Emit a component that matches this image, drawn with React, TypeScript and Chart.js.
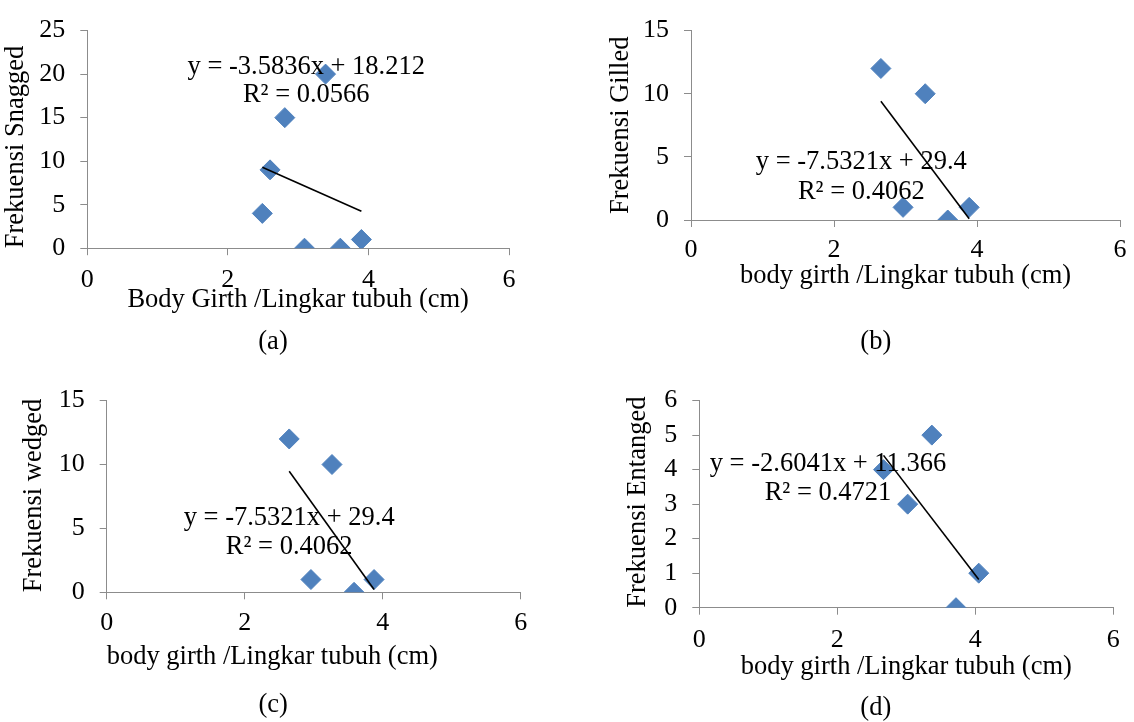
import React, { useEffect, useRef } from 'react';
import { Chart, registerables } from 'chart.js';

Chart.register(...registerables);

const FONT = "'Liberation Serif', 'Times New Roman', Times, serif";
const AXIS_GRAY = '#8c8c8c';
const MARKER = '#4F81BD';
const TICK_SIZE = 26;
const TEXT_SIZE = 26.5;

// ---- data ----
const xTickValues = [0, 2, 4, 6];

// (a) Snagged
const snaggedGirth = [2.49, 2.6, 2.81, 3.39, 3.09, 3.6, 3.9];
const snaggedFreq = [4, 9, 15, 20, 0, 0, 1];
const snaggedFit = [-3.5836, 18.212];
const snaggedEq = ['y = -3.5836x + 18.212', 'R² = 0.0566'];

// (b) Gilled
const gilledGirth = [2.655, 3.275, 2.965, 3.59, 3.89];
const gilledFreq = [12, 10, 1, 0, 1];
const gilledFit = [-7.5321, 29.4];
const gilledEq = ['y = -7.5321x + 29.4', 'R² = 0.4062'];

// (c) Wedged
const wedgedGirth = [2.645, 3.265, 2.96, 3.585, 3.875];
const wedgedFreq = [12, 10, 1, 0, 1];
const wedgedFit = [-7.5321, 29.4];
const wedgedEq = ['y = -7.5321x + 29.4', 'R² = 0.4062'];

// (d) Entangled
const entangledGirth = [2.67, 3.37, 3.02, 3.72, 4.05];
const entangledFreq = [4, 5, 3, 0, 1];
const entangledFit = [-2.6041, 11.366];
const entangledEq = ['y = -2.6041x + 11.366', 'R² = 0.4721'];

type Panel = {
  key: string;
  caption: string;
  yTitle: string;
  xTitle: string;
  xs: number[];
  ys: number[];
  fit: number[];
  eq: string[];
  yMax: number;
  yStep: number;
  // layout
  left: number; top: number; w: number; h: number;
  yAxisW: number; padTop: number; padRight: number; padBottom: number;
  xAxisH: number; xTickPad: number;
  yTitlePad: number; yTitleAlign: 'start' | 'center' | 'end';
  xTitleAlign: 'start' | 'center' | 'end';
  eqAt: number[]; eqGap: number;
  capAt: number[];
};

const panels: Panel[] = [
  {
    key: 'a', caption: '(a)', yTitle: 'Frekuensi Snagged', xTitle: 'Body Girth /Lingkar tubuh (cm)',
    xs: snaggedGirth, ys: snaggedFreq, fit: snaggedFit, eq: snaggedEq, yMax: 25, yStep: 5,
    left: 0, top: 0, w: 567, h: 370,
    yAxisW: 87.3, padTop: 24.2, padRight: 58, padBottom: 54.4,
    xAxisH: 67.4, xTickPad: 9,
    yTitlePad: 0, yTitleAlign: 'start', xTitleAlign: 'center',
    eqAt: [3.115, 20.81], eqGap: 28.3, capAt: [273, 342],
  },
  {
    key: 'b', caption: '(b)', yTitle: 'Frekuensi Gilled', xTitle: 'body girth /Lingkar tubuh (cm)',
    xs: gilledGirth, ys: gilledFreq, fit: gilledFit, eq: gilledEq, yMax: 15, yStep: 5,
    left: 567, top: 0, w: 567, h: 370,
    yAxisW: 124, padTop: 19, padRight: 11, padBottom: 78.4,
    xAxisH: 71.6, xTickPad: 7.4,
    yTitlePad: 37.8, yTitleAlign: 'center', xTitleAlign: 'center',
    eqAt: [2.381, 4.604], eqGap: 30, capAt: [308.8, 342],
  },
  {
    key: 'c', caption: '(c)', yTitle: 'Frekuensi wedged', xTitle: 'body girth /Lingkar tubuh (cm)',
    xs: wedgedGirth, ys: wedgedFreq, fit: wedgedFit, eq: wedgedEq, yMax: 15, yStep: 5,
    left: 0, top: 370, w: 567, h: 352,
    yAxisW: 106.7, padTop: 16.7, padRight: 46.3, padBottom: 49.4,
    xAxisH: 80.3, xTickPad: 8.1,
    yTitlePad: 18.2, yTitleAlign: 'start', xTitleAlign: 'start',
    eqAt: [2.645, 5.81], eqGap: 29, capAt: [273.2, 335.5],
  },
  {
    key: 'd', caption: '(d)', yTitle: 'Frekuensi Entanged', xTitle: 'body girth /Lingkar tubuh (cm)',
    xs: entangledGirth, ys: entangledFreq, fit: entangledFit, eq: entangledEq, yMax: 6, yStep: 1,
    left: 567, top: 370, w: 567, h: 352,
    yAxisW: 132.3, padTop: 16, padRight: 20.7, padBottom: 39.4,
    xAxisH: 74.9, xTickPad: 9.7,
    yTitlePad: 55.6, yTitleAlign: 'start', xTitleAlign: 'center',
    eqAt: [1.865, 4.16], eqGap: 29.3, capAt: [308.8, 338],
  },
];

function PanelChart({ p }: { p: Panel }) {
  const ref = useRef<HTMLCanvasElement | null>(null);

  useEffect(() => {
    if (!ref.current) return;
    const points = p.xs.map((x, i) => ({ x, y: p.ys[i] }));
    const minX = Math.min(...p.xs);
    const maxX = Math.max(...p.xs);
    const trend = [minX, maxX].map((x) => ({ x, y: p.fit[0] * x + p.fit[1] }));

    const textPlugin = {
      id: 'panelText' + p.key,
      afterDraw(chart: any) {
        const { ctx, scales } = chart;
        ctx.save();
        ctx.font = `${TEXT_SIZE}px ${FONT}`;
        ctx.fillStyle = '#000';
        ctx.textAlign = 'center';
        ctx.textBaseline = 'middle';
        const ex = scales.x.getPixelForValue(p.eqAt[0]);
        const ey = scales.y.getPixelForValue(p.eqAt[1]);
        p.eq.forEach((line, i) => ctx.fillText(line, ex, ey + i * p.eqGap));
        ctx.fillText(p.caption, p.capAt[0], p.capAt[1]);
        ctx.restore();
      },
    };

    const chart = new Chart(ref.current, {
      type: 'scatter',
      data: {
        datasets: [
          {
            type: 'line',
            label: 'Linear trend',
            data: trend,
            borderColor: '#000',
            borderWidth: 1.6,
            pointRadius: 0,
            fill: false,
            order: 0,
          } as any,
          {
            label: p.yTitle,
            data: points,
            pointStyle: 'rectRot',
            pointRadius: 10,
            pointBackgroundColor: MARKER,
            pointBorderColor: MARKER,
            pointBorderWidth: 1,
            backgroundColor: MARKER,
            borderColor: MARKER,
            order: 1,
          },
        ],
      },
      options: {
        animation: false,
        responsive: false,
        maintainAspectRatio: false,
        layout: { padding: { left: 0, top: p.padTop, right: p.padRight, bottom: p.padBottom } },
        plugins: {
          legend: { display: false },
          tooltip: { enabled: false },
          title: { display: false },
        },
        scales: {
          x: {
            type: 'linear',
            position: 'bottom',
            min: 0,
            max: 6,
            afterBuildTicks: (scale: any) => {
              scale.ticks = xTickValues.map((v) => ({ value: v }));
            },
            afterFit: (scale: any) => {
              scale.height = p.xAxisH;
            },
            grid: {
              display: true,
              drawOnChartArea: false,
              drawTicks: true,
              tickLength: 7,
              color: AXIS_GRAY,
              lineWidth: 1,
            },
            border: { display: true, color: AXIS_GRAY, width: 1 },
            ticks: {
              color: '#000',
              font: { family: FONT, size: TICK_SIZE },
              padding: p.xTickPad,
              maxRotation: 0,
              autoSkip: false,
            },
            title: {
              display: true,
              text: p.xTitle,
              align: p.xTitleAlign,
              color: '#000',
              font: { family: FONT, size: TEXT_SIZE },
              padding: { top: 0, bottom: 0 },
            },
          },
          y: {
            type: 'linear',
            position: 'left',
            min: 0,
            max: p.yMax,
            afterFit: (scale: any) => {
              scale.width = p.yAxisW;
            },
            grid: {
              display: true,
              drawOnChartArea: false,
              drawTicks: true,
              tickLength: 7,
              color: AXIS_GRAY,
              lineWidth: 1,
            },
            border: { display: true, color: AXIS_GRAY, width: 1 },
            ticks: {
              stepSize: p.yStep,
              color: '#000',
              font: { family: FONT, size: TICK_SIZE },
              padding: 15,
              autoSkip: false,
            },
            title: {
              display: true,
              text: p.yTitle,
              align: p.yTitleAlign,
              color: '#000',
              font: { family: FONT, size: TEXT_SIZE },
              padding: { top: p.yTitlePad, bottom: 0 },
            },
          },
        },
      },
      plugins: [textPlugin],
    });

    return () => chart.destroy();
  }, [p]);

  return (
    <canvas
      ref={ref}
      width={p.w}
      height={p.h}
      style={{ position: 'absolute', left: p.left, top: p.top, width: p.w, height: p.h }}
    />
  );
}

export default function App() {
  return (
    <div
      style={{
        position: 'absolute',
        left: 0,
        top: 0,
        width: 1134,
        height: 722,
        background: '#fff',
        overflow: 'hidden',
      }}
    >
      {panels.map((p) => (
        <PanelChart key={p.key} p={p} />
      ))}
    </div>
  );
}
